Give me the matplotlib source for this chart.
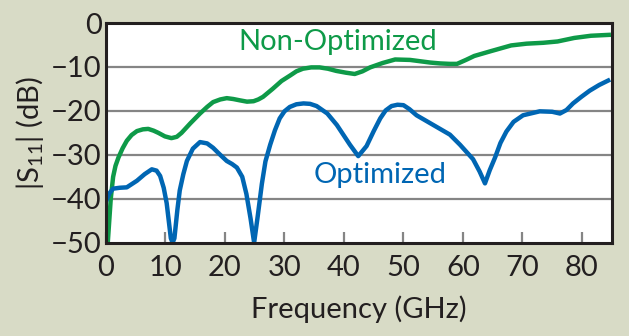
import matplotlib
matplotlib.use("Agg")
import matplotlib.pyplot as plt

# values
freq_non = [0.3, 0.8, 1.2, 1.6, 2.1, 2.8, 3.5, 4.3, 5.2, 6.2, 7.1, 8.0, 8.8, 9.9, 11.0,
            11.9, 12.7, 14.2, 15.8, 17.0, 18.0, 19.2, 20.3, 21.4, 22.5, 23.7, 24.8, 25.6,
            26.4, 28.0, 29.5, 31.0, 32.0, 33.1, 34.5, 35.9, 37.3, 38.7, 40.3, 41.8, 43.1,
            44.4, 46.5, 48.6, 51.1, 52.8, 54.5, 56.2, 57.8, 59.0, 60.5, 61.9, 64.7, 68.1,
            70.7, 73.5, 75.9, 78.7, 81.5, 84.5]
s11_non = [-50, -40, -35, -32.5, -30.6, -28.5, -26.8, -25.5, -24.6, -24.2, -24.1, -24.5,
           -25.0, -25.8, -26.2, -25.9, -25.0, -22.8, -20.6, -19.1, -18.0, -17.4, -17.1,
           -17.3, -17.6, -17.9, -17.8, -17.4, -16.8, -15.0, -13.2, -11.9, -11.0, -10.4,
           -10.1, -10.1, -10.4, -10.9, -11.3, -11.6, -11.0, -10.1, -9.1, -8.3, -8.4,
           -8.7, -9.0, -9.2, -9.3, -9.3, -8.4, -7.5, -6.4, -5.1, -4.7, -4.5, -4.2, -3.4,
           -2.9, -2.7]

freq_opt = [0.1, 0.6, 1.2, 2.3, 3.5, 5.2, 6.5, 7.7, 8.5, 9.1, 9.7, 10.2, 10.9, 11.2, 11.5,
            12.0, 12.4, 13.0, 13.6, 14.6, 15.8, 17.0, 18.0, 19.2, 20.3, 21.2, 22.0, 22.9,
            23.6, 24.3, 24.9, 25.5, 26.2, 26.8, 27.6, 28.4, 29.2, 30.0, 30.9, 32.0, 33.2,
            34.3, 35.4, 37.2, 38.8, 41.0, 42.4, 43.8, 45.0, 46.1, 47.0, 48.0, 49.0, 50.0,
            51.0, 52.2, 55.0, 57.8, 59.5, 61.7, 62.8, 63.7, 64.5, 65.4, 66.3, 67.3, 68.5,
            70.1, 72.9, 75.0, 76.3, 77.4, 78.5, 79.9, 81.3, 82.9, 84.4]
s11_opt = [-40.3, -38.7, -37.7, -37.5, -37.4, -35.9, -34.4, -33.3, -33.6, -34.8, -37.5,
           -41.0, -49.0, -50.0, -49.0, -42.5, -38.1, -34.4, -31.4, -28.6, -27.1, -27.4,
           -28.4, -30.0, -31.4, -32.1, -32.9, -35.0, -38.9, -44.5, -50.0, -44.0, -36.6,
           -31.5, -27.7, -24.4, -21.7, -20.1, -19.1, -18.5, -18.3, -18.4, -18.9, -20.6,
           -23.2, -27.7, -30.3, -28.0, -24.6, -21.7, -19.9, -18.9, -18.6, -18.7, -19.6,
           -21.0, -23.2, -25.4, -27.7, -31.0, -33.8, -36.5, -33.5, -30.6, -27.3, -24.7,
           -22.5, -21.0, -20.1, -20.2, -20.6, -19.8, -18.3, -16.8, -15.4, -14.1, -13.1]

x_ticks = [0, 10, 20, 30, 40, 50, 60, 70, 80]
y_ticks = [0, -10, -20, -30, -40, -50]

BG = "#d8dbc6"
GREEN = "#0e9a48"
BLUE = "#0066b3"
DARK = "#231f20"

plt.rcParams["font.family"] = ["Lato", "DejaVu Sans"]
plt.rcParams["mathtext.fontset"] = "custom"
plt.rcParams["mathtext.rm"] = "Lato"
plt.rcParams["mathtext.it"] = "Lato"

fig = plt.figure(figsize=(6.29, 3.36), dpi=100, facecolor=BG)
ax = fig.add_axes([0.1685, 0.2777, 0.804, 0.6538])
ax.set_facecolor("white")

for yv in y_ticks[1:-1]:
    ax.axhline(yv, color="#858585", lw=1.6, zorder=1)

ax.plot(freq_non, s11_non, color=GREEN, lw=3.2, solid_joinstyle="round", zorder=3)
ax.plot(freq_opt, s11_opt, color=BLUE, lw=3.2, solid_joinstyle="round", zorder=3)

ax.set_xlim(0, 85)
ax.set_ylim(-50, 0)
ax.set_xticks(x_ticks)
ax.set_yticks(y_ticks)
ax.set_xticklabels([str(v) for v in x_ticks])
ax.set_yticklabels([f"\u2212{abs(v)}" if v else "0" for v in y_ticks])

ax.tick_params(axis="x", direction="in", length=8, width=1.6, color="#858585",
               labelsize=21, pad=9, labelcolor=DARK)
ax.tick_params(axis="y", length=0, labelsize=21, pad=3, labelcolor=DARK)

for s in ax.spines.values():
    s.set_color(DARK)
    s.set_linewidth(2.2)
    s.set_zorder(5)

ax.set_xlabel("Frequency (GHz)", fontsize=21, color=DARK, labelpad=10)
ax.set_ylabel("|S$_{11}$| (dB)", fontsize=21, color=DARK, labelpad=4)

ax.text(39, -4.3, "Non-Optimized", color=GREEN, fontsize=21, ha="center", va="center")
ax.text(46, -34.7, "Optimized", color=BLUE, fontsize=21, ha="center", va="center")

fig.savefig("out.png", dpi=100, facecolor=BG)
